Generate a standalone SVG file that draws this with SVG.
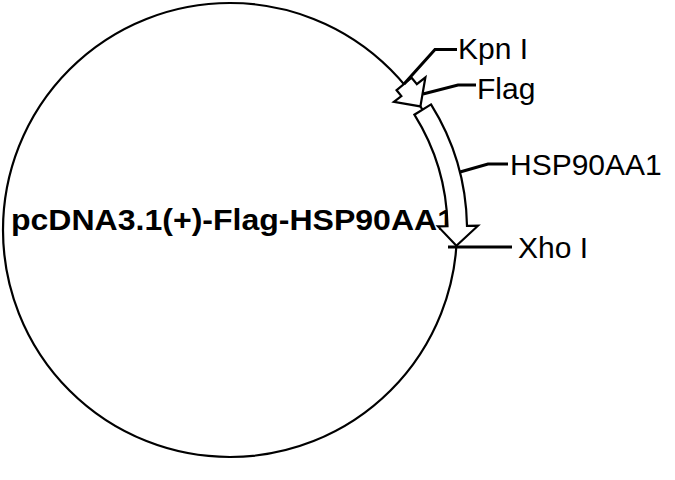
<svg xmlns="http://www.w3.org/2000/svg" width="675" height="480" viewBox="0 0 675 480">
<style>
.bb{fill:none;stroke:#000;stroke-width:2.2}
.feat{fill:#fff;stroke:#000;stroke-width:2.2;stroke-linejoin:miter}
.con{fill:none;stroke:#000;stroke-width:3}
.lbl{font-family:"Liberation Sans",Arial,sans-serif;font-size:30px;fill:#000}
.title{font-family:"Liberation Sans",Arial,sans-serif;font-size:29px;font-weight:bold;fill:#000}
</style>
<rect width="675" height="480" fill="#fff"/>
<g id="plasmid">
<circle class="bb" cx="230" cy="230" r="227"/>
<text class="title" x="11" y="230" textLength="444" lengthAdjust="spacingAndGlyphs">pcDNA3.1(+)-Flag-HSP90AA1</text>
</g>
<g id="flag">
<path class="feat" d="M411.6,77.7 A237,237 0 0 1 416.8,84.1 L425.4,77.3 L420.4,106.4 L393.9,101.9 L401.4,96.1 A217.5,217.5 0 0 0 396.6,90.2 Z"/>
</g>
<g id="hsp90aa1">
<path class="feat" d="M431.0,104.4 A237,237 0 0 1 467.0,225.9 L478.0,225.7 L456.4,245.8 L438.0,226.4 L447.5,226.2 A217.5,217.5 0 0 0 414.4,114.7 Z"/>
</g>
<g id="connectors">
<polyline class="con" points="404,84 435,49.5 457,49.5"/>
<polyline class="con" points="423,94 458,85 476,85"/>
<polyline class="con" points="460,172 488,164 508,164"/>
<line class="con" x1="448" y1="247" x2="512" y2="247"/>
</g>
<g id="labels">
<text class="lbl" x="458" y="59">Kpn I</text>
<text class="lbl" x="477" y="99">Flag</text>
<text class="lbl" x="510" y="175">HSP90AA1</text>
<text class="lbl" x="518" y="258">Xho I</text>
</g>
</svg>
